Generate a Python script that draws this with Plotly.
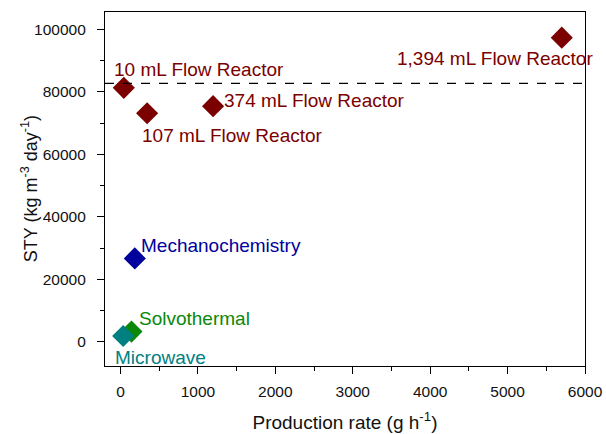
import plotly.graph_objects as go

# Data
labels = ["1,394 mL Flow Reactor", "10 mL Flow Reactor", "107 mL Flow Reactor",
          "374 mL Flow Reactor", "Mechanochemistry", "Solvothermal", "Microwave"]
production_rate = [5700, 43, 344, 1196, 185, 142, 35]
sty = [97300, 81250, 73100, 75400, 26700, 3300, 1900]
colors = ["#7b0000", "#7b0000", "#7b0000", "#7b0000", "#00009c", "#0a880a", "#008080"]
dashed_level = 82650
x_ticks = [0, 1000, 2000, 3000, 4000, 5000, 6000]
y_ticks = [0, 20000, 40000, 60000, 80000, 100000]
y_title = "STY (kg m<sup>-3</sup> day<sup>-1</sup>)"
x_title = "Production rate (g h<sup>-1</sup>)"

# label offsets (pixels) and anchors
label_xanchor = ["right", "left", "left", "left", "left", "left", "left"]
label_xshift = [33, -12, -7, 9, 4, 6, -10]
label_yshift = [-21, 18, -22, 6, 13, 13, -22]

FONT = "Liberation Sans, Arial, sans-serif"

fig = go.Figure()
for i in range(len(labels)):
    fig.add_trace(go.Scatter(
        x=[production_rate[i]], y=[sty[i]], mode="markers",
        marker=dict(symbol="diamond", size=17, color=colors[i], line=dict(width=0)),
        showlegend=False, cliponaxis=False,
    ))
    fig.add_annotation(
        x=production_rate[i], y=sty[i], xref="x", yref="y", text=labels[i],
        showarrow=False, xanchor=label_xanchor[i], yanchor="middle",
        xshift=label_xshift[i], yshift=label_yshift[i],
        font=dict(family=FONT, size=19, color=colors[i]),
    )

fig.add_shape(type="line", xref="paper", x0=0, x1=1, yref="y", y0=dashed_level, y1=dashed_level,
              line=dict(color="black", width=1.2, dash="dash"))

# y-axis title as a rotated annotation
fig.add_annotation(
    x=-0.158, y=0.5, xref="paper", yref="paper", text=y_title, textangle=-90,
    showarrow=False, xanchor="center", yanchor="middle",
    font=dict(size=18, family=FONT, color="#111111"),
)

fig.update_layout(
    width=606, height=434,
    margin=dict(l=105, r=21, t=12, b=68),
    paper_bgcolor="white", plot_bgcolor="white",
    font=dict(family=FONT, color="#111111"),
    showlegend=False,
)
fig.update_xaxes(
    range=[-200, 6000], tickvals=x_ticks, tickformat="d", automargin=False,
    showgrid=False, zeroline=False,
    showline=True, linecolor="black", linewidth=1.2, mirror=True,
    ticks="outside", ticklen=7, tickwidth=1.2, tickcolor="black",
    minor=dict(dtick=500, ticks="outside", ticklen=4, tickwidth=1.2, tickcolor="black", showgrid=False),
    tickfont=dict(size=15.5, family=FONT, color="#111111"), ticklabelstandoff=4,
    title=dict(text=x_title, font=dict(size=19, family=FONT, color="#111111"), standoff=16),
)
fig.update_yaxes(
    range=[-7700, 105500], tickvals=y_ticks, tickformat="d", automargin=False,
    showgrid=False, zeroline=False,
    showline=True, linecolor="black", linewidth=1.2, mirror=True,
    ticks="outside", ticklen=7, tickwidth=1.2, tickcolor="black",
    minor=dict(dtick=10000, ticks="outside", ticklen=4, tickwidth=1.2, tickcolor="black", showgrid=False),
    tickfont=dict(size=15.5, family=FONT, color="#111111"), ticklabelstandoff=8,
)

fig.write_html("out.html")
